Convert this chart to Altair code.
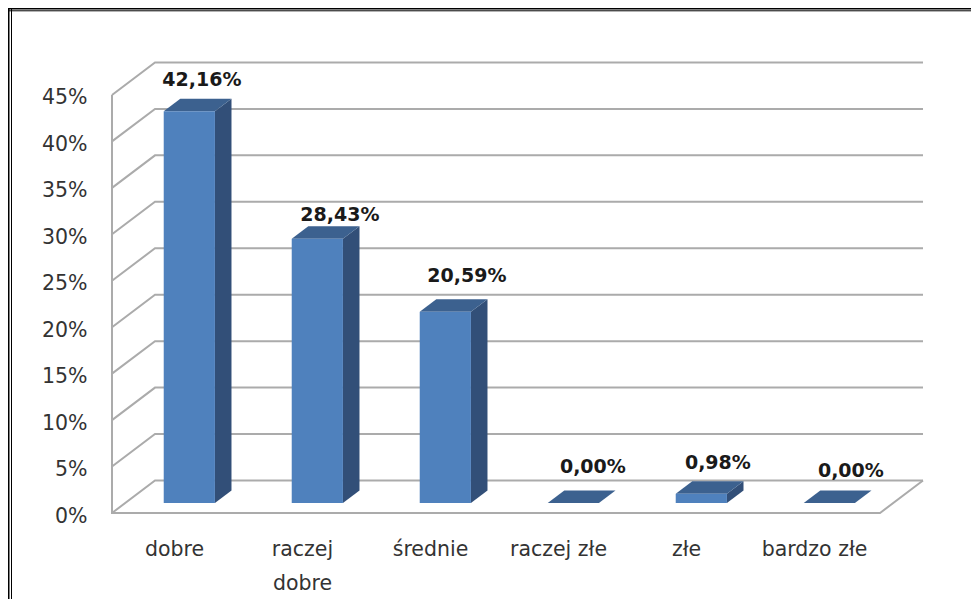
import json
import altair as alt
import pandas as pd

categories = ["dobre", "raczej dobre", "średnie", "raczej złe", "złe", "bardzo złe"]
category_lines = ["dobre", ["raczej", "dobre"], "średnie", "raczej złe", "złe", "bardzo złe"]
values = [42.16, 28.43, 20.59, 0.00, 0.98, 0.00]
value_labels = ["42,16%", "28,43%", "20,59%", "0,00%", "0,98%", "0,00%"]
y_ticks = [0, 5, 10, 15, 20, 25, 30, 35, 40, 45]

# Oblique projection of the pseudo-3D box, expressed in axis units
W, H = 963, 591
UNIT_X, UNIT_Y = 128.0, 9.29
ORIGIN_X, ORIGIN_Y = 104.0, 505.0
SHEAR_X, SHEAR_Y = 43.0 / UNIT_X, 32.5 / UNIT_Y
BAR_D0, BAR_D1 = 0.31, 0.695
BAR_U0, BAR_U1 = 0.30, 0.70
# (dx, dy) nudges of each value label, in pixels
label_nudges = [(-12, -19), (-2, -11), (-3, -23), (-5, -23), (-8, -18), (-3, -19)]

FONT = "DejaVu Sans"

x_scale = alt.Scale(domain=[-ORIGIN_X / UNIT_X, (W - ORIGIN_X) / UNIT_X], nice=False, zero=False)
y_scale = alt.Scale(domain=[(ORIGIN_Y - H) / UNIT_Y, ORIGIN_Y / UNIT_Y], nice=False, zero=False)

x_expr = "%s[round(datum.value - 0.5)]" % json.dumps(category_lines, ensure_ascii=False)
x_axis = alt.Axis(
    values=[k + 0.5 for k in range(len(categories))], labelExpr=x_expr, domain=False, ticks=False,
    grid=False, tickSize=0, labelPadding=0, offset=-(H - 531), labelOffset=-2, labelAngle=0,
    labelBaseline="top", labelAlign="center", labelOverlap=False, labelBound=False, labelFlush=False,
    labelFont=FONT, labelFontSize=20.5, labelColor="#333333", labelLineHeight=34,
)
y_axis = alt.Axis(
    values=y_ticks, labelExpr="datum.value + '%'", domain=False, ticks=False, grid=False,
    tickSize=0, labelPadding=0, offset=-79, labelOffset=3, labelBaseline="middle",
    labelOverlap=False, labelBound=False, labelFlush=False,
    labelFont=FONT, labelFontSize=20.5, labelColor="#333333",
)
X = lambda f: alt.X(f, type="quantitative", scale=x_scale, axis=x_axis, title=None)
Y = lambda f: alt.Y(f, type="quantitative", scale=y_scale, axis=y_axis, title=None)


def px(u, d):
    return u + d * SHEAR_X


def py(v, d):
    return v + d * SHEAR_Y


# Walls and floor lines
grid = []
for t in y_ticks:
    for i, (u, d) in enumerate([(0, 0), (0, 1), (6, 1)]):
        grid.append(dict(g=f"w{t}", i=i, x=px(u, d), y=py(t, d)))
for i, (u, d) in enumerate([(6, 1), (6, 0), (0, 0), (0, 0)]):
    t = 45 if i == 3 else 0
    grid.append(dict(g="frame", i=i, x=px(u, d), y=py(t, d)))
grid_layer = alt.Chart(pd.DataFrame(grid)).mark_line(color="#ababab", strokeWidth=2).encode(
    x=X("x"), y=Y("y"), detail="g:N", order="i:Q"
)

# Bars
front, side, top = [], [], []
for k, (c, v) in enumerate(zip(categories, values)):
    x0, x1 = k + BAR_U0, k + BAR_U1
    front.append(dict(c=c, x=px(x0, BAR_D0), x2=px(x1, BAR_D0), y=py(v, BAR_D0), y2=py(0, BAR_D0)))
    side.append(dict(c=c, x=px(x1, BAR_D0), y=py(v, BAR_D0), y2=py(0, BAR_D0)))
    side.append(dict(c=c, x=px(x1, BAR_D1), y=py(v, BAR_D1), y2=py(0, BAR_D1)))
    top.append(dict(c=c, x=px(x0, BAR_D0), y=py(v, BAR_D0), y2=py(v, BAR_D0)))
    top.append(dict(c=c, x=px(x0, BAR_D1), y=py(v, BAR_D0), y2=py(v, BAR_D1)))
    top.append(dict(c=c, x=px(x1, BAR_D0), y=py(v, BAR_D0), y2=py(v, BAR_D1)))
    top.append(dict(c=c, x=px(x1, BAR_D1), y=py(v, BAR_D1), y2=py(v, BAR_D1)))

side_layer = alt.Chart(pd.DataFrame(side)).mark_area(color="#324f78").encode(
    x=X("x"), y=Y("y"), y2="y2:Q", detail="c:N"
)
top_layer = alt.Chart(pd.DataFrame(top)).mark_area(color="#3c618f").encode(
    x=X("x"), y=Y("y"), y2="y2:Q", detail="c:N"
)
front_layer = alt.Chart(pd.DataFrame(front)).mark_rect(color="#4f81bd").encode(
    x=X("x"), x2="x2:Q", y=Y("y"), y2="y2:Q"
)

# Value labels
label_layers = []
for k, (lab, v, (dx, dy)) in enumerate(zip(value_labels, values, label_nudges)):
    row = pd.DataFrame([dict(
        x=px(k + 0.5, BAR_D1) + 8 / UNIT_X,
        y=py(v, BAR_D1),
        t=lab,
    )])
    label_layers.append(
        alt.Chart(row).mark_text(
            font=FONT, fontSize=19, fontWeight="bold", color="#1a1a1a", dx=dx, dy=dy, baseline="middle"
        ).encode(x=X("x"), y=Y("y"), text="t:N")
    )

axis_df = pd.DataFrame(dict(x=[0.5], y=[0.0]))


# Double page frame
def vrule(x, w):
    return alt.Chart(axis_df).mark_rule(color="black", strokeWidth=w).encode(
        x=alt.value(x), y=alt.value(0), y2=alt.value(H)
    )


def hrule(y, w):
    return alt.Chart(axis_df).mark_rule(color="black", strokeWidth=w).encode(
        y=alt.value(y), x=alt.value(0), x2=alt.value(W)
    )


frame_layers = [vrule(0.75, 1.5), vrule(3.5, 1), hrule(0.75, 1.5), hrule(2.8, 1)]

chart = alt.layer(
    grid_layer, side_layer, top_layer, front_layer, *label_layers, *frame_layers
).properties(
    width=W, height=H, padding=0, background="white",
    autosize=alt.AutoSizeParams(type="none"),
).configure_view(stroke=None)

chart.save("out.html", embed_options={"renderer": "svg", "actions": False})
